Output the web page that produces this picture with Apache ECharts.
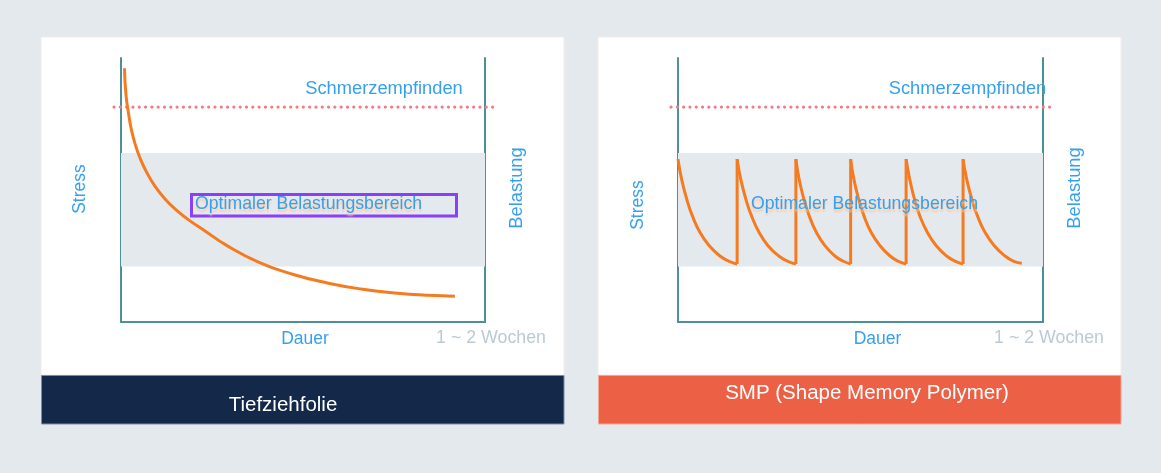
<!DOCTYPE html>
<html>
<head>
<meta charset="utf-8">
<script src="https://cdn.jsdelivr.net/npm/echarts@6/dist/echarts.min.js"></script>
<style>
html,body{margin:0;padding:0;background:#e4e9ee;}
#c{width:1161px;height:473px;}
</style>
</head>
<body>
<div id="c"></div>
<script>
// ---- data ----
const xRange = [0, 100];
const yRange = [0, 100];
const optimalBand = [21, 64];          // Optimaler Belastungsbereich
const painLevel = 81.4;                // Schmerzempfinden
const painLineX = [0, 100];            // on the (slightly wider) overlay axis
const panelTitles = ['Tiefziehfolie', 'SMP (Shape Memory Polymer)'];
const labelPain = 'Schmerzempfinden';
const labelBand = 'Optimaler Belastungsbereich';
const labelY = 'Stress';
const labelY2 = 'Belastung';
const labelX = 'Dauer';
const labelTime = '1 ~ 2 Wochen';

// Tiefziehfolie: single decay
const foilCurve = [
  [0.96, 96.1], [1.37, 86.0], [2.06, 79.1], [2.88, 72.7], [3.98, 67.0], [5.22, 62.1],
  [7.01, 56.8], [9.31, 51.5], [12.09, 46.6], [15.38, 42.2], [18.96, 38.3], [23.08, 34.5],
  [28.79, 29.2], [38.08, 22.5], [47.36, 18.0], [56.65, 14.8], [65.93, 12.5],
  [75.19, 11.0], [84.48, 10.1], [91.73, 9.8]
];

// SMP: repeated decays
const smpCycle1 = [[0,61.7],[1,54],[2.5,46],[4,40],[6,34],[8.5,29],[11.5,25],[14,23],[16.2,22]];
const smpCycle2 = [[16.2,61.7],[17.2,54],[18.7,46],[20.2,40],[22.2,34],[24.6,29],[27.6,25],[30.1,23],[32.3,22]];
const smpCycle3 = [[32.3,61.7],[33.2,54],[34.6,46],[36,40],[37.9,34],[40.2,29],[43,25],[45.3,23],[47.3,22]];
const smpCycle4 = [[47.3,61.7],[48.2,54],[49.6,46],[51,40],[52.9,34],[55.3,29],[58.1,25],[60.4,23],[62.5,22]];
const smpCycle5 = [[62.5,61.7],[63.5,54],[64.9,46],[66.3,40],[68.3,34],[70.7,29],[73.6,25],[76,23],[78.1,22]];
const smpCycle6 = [[78.1,61.7],[79.1,54],[80.6,46],[82.1,40],[84.1,34],[86.6,29],[89.6,25],[92,23],[94.2,22.3]];
const smpJumpX = [16.2, 32.3, 47.3, 62.5, 78.1];
const smpPeak = 61.7;
const smpTrough = 22.0;

// ---- styling ----
const FONT = '"Liberation Sans", Arial, Helvetica, sans-serif';
const BLUE = '#36a0ee';
const ORANGE = '#f47b20';
const AXIS = '#4e9098';
const PAIN = '#f27b84';

const chart = echarts.init(document.getElementById('c'));

const grids = [
  { left: 121, top: 58, width: 364, height: 264 },
  { left: 678, top: 58, width: 365, height: 264 },
  // overlay grids for the wider dotted pain line
  { left: 114, top: 58, width: 380, height: 264 },
  { left: 671, top: 58, width: 379, height: 264 }
];

const hiddenAxis = (i) => ({ type: 'value', gridIndex: i, min: 0, max: 100, show: false });
const xAxes = [], yAxes = [], series = [];
[0, 1].forEach(i => {
  xAxes.push({
    type: 'value', gridIndex: i, min: xRange[0], max: xRange[1],
    axisLine: { show: true, onZero: false, lineStyle: { color: AXIS, width: 2 } },
    axisTick: { show: false }, axisLabel: { show: false }, splitLine: { show: false }
  });
  yAxes.push({
    type: 'value', gridIndex: i, min: yRange[0], max: yRange[1], position: 'left',
    axisLine: { show: true, onZero: false, lineStyle: { color: AXIS, width: 2 } },
    axisTick: { show: false }, axisLabel: { show: false }, splitLine: { show: false }
  });
  yAxes.push({
    type: 'value', gridIndex: i, min: yRange[0], max: yRange[1], position: 'right',
    axisLine: { show: true, onZero: false, lineStyle: { color: AXIS, width: 2 } },
    axisTick: { show: false }, axisLabel: { show: false }, splitLine: { show: false }
  });
  // optimal band
  series.push({
    type: 'line', xAxisIndex: i, yAxisIndex: i * 2, data: [], silent: true,
    markArea: {
      silent: true,
      itemStyle: { color: '#e4e9ee' },
      data: [[{ yAxis: optimalBand[0] }, { yAxis: optimalBand[1] }]]
    }
  });
});
[2, 3].forEach(i => {
  xAxes.push(hiddenAxis(i));
  yAxes.push(Object.assign(hiddenAxis(i), { min: yRange[0], max: yRange[1] }));
});
// pain lines on overlay axes (xAxis 2/3, yAxis 4/5)
[0, 1].forEach(k => {
  series.push({
    type: 'line', xAxisIndex: 2 + k, yAxisIndex: 4 + k, silent: true,
    data: [[painLineX[0], painLevel], [painLineX[1], painLevel]],
    symbol: 'none', z: 3,
    lineStyle: { color: PAIN, width: 3.2, type: [0.01, 6.3], cap: 'round' }
  });
});

series.push({
  type: 'line', xAxisIndex: 0, yAxisIndex: 0, data: foilCurve, smooth: true,
  symbol: 'none', z: 4, lineStyle: { color: ORANGE, width: 3 }
});

[smpCycle1, smpCycle2, smpCycle3, smpCycle4, smpCycle5, smpCycle6].forEach(c => {
  series.push({
    type: 'line', xAxisIndex: 1, yAxisIndex: 2, data: c, smooth: true,
    symbol: 'none', z: 4, lineStyle: { color: ORANGE, width: 3 }
  });
});
smpJumpX.forEach(x => {
  series.push({
    type: 'line', xAxisIndex: 1, yAxisIndex: 2, data: [[x, smpTrough], [x, smpPeak]],
    symbol: 'none', z: 4, lineStyle: { color: ORANGE, width: 3 }
  });
});

function txt(x, y, text, opts) {
  opts = opts || {};
  return {
    type: 'text', x: x, y: y, rotation: opts.rot || 0, z: 50,
    style: {
      text: text, x: 0, y: 0,
      fill: opts.color || BLUE,
      font: (opts.weight || 'normal') + ' ' + (opts.size || 17.5) + 'px ' + FONT,
      textAlign: opts.align || 'center', textVerticalAlign: 'middle',
      textShadowColor: opts.shadow ? 'rgba(252,200,160,1)' : undefined,
      textShadowBlur: opts.shadow ? 2 : 0,
      textShadowOffsetY: opts.shadow ? 3 : 0
    }
  };
}

const graphic = [
  // cards
  { type: 'rect', z: -10, shape: { x: 41, y: 37, width: 523, height: 338 }, style: { fill: '#ffffff', stroke: '#f3ebe8', lineWidth: 1 } },
  { type: 'rect', z: -10, shape: { x: 598, y: 37, width: 523, height: 338 }, style: { fill: '#ffffff', stroke: '#f3ebe8', lineWidth: 1 } },
  { type: 'rect', z: -9, shape: { x: 41.5, y: 375.5, width: 522.5, height: 48.5 }, style: { fill: '#14284a', stroke: '#7d8ca3', lineWidth: 1 } },
  { type: 'rect', z: -9, shape: { x: 598.5, y: 375.5, width: 522.5, height: 48.5 }, style: { fill: '#ec6146', stroke: '#f3a594', lineWidth: 1 } },
  txt(283, 405, panelTitles[0], { color: '#ffffff', size: 20.5 }),
  txt(867, 393, panelTitles[1], { color: '#ffffff', size: 20.5 }),
  // left labels
  txt(384, 89, labelPain, { size: 18.3 }),
  txt(195, 204, labelBand, { align: 'left', shadow: true, size: 17.7 }),
  { type: 'rect', z: 49, shape: { x: 191.5, y: 194.5, width: 265, height: 21.5 }, style: { fill: 'none', stroke: '#8a3ffc', lineWidth: 3 } },
  txt(80, 189, labelY, { rot: Math.PI / 2 }),
  txt(517, 188, labelY2, { rot: Math.PI / 2, size: 18.3 }),
  txt(305, 339, labelX),
  txt(546, 338, labelTime, { align: 'right', color: '#bccad4', size: 17.8 }),
  // right labels
  txt(967.5, 89, labelPain, { size: 18.3 }),
  txt(864.5, 204, labelBand, { shadow: true, size: 17.7 }),
  txt(638, 205, labelY, { rot: Math.PI / 2 }),
  txt(1075, 188, labelY2, { rot: Math.PI / 2, size: 18.3 }),
  txt(877.5, 339, labelX),
  txt(1104, 338, labelTime, { align: 'right', color: '#bccad4', size: 17.8 })
];

chart.setOption({
  backgroundColor: '#e4e9ee',
  animation: false,
  grid: grids,
  xAxis: xAxes,
  yAxis: yAxes,
  series: series,
  graphic: graphic
});
</script>
</body>
</html>
